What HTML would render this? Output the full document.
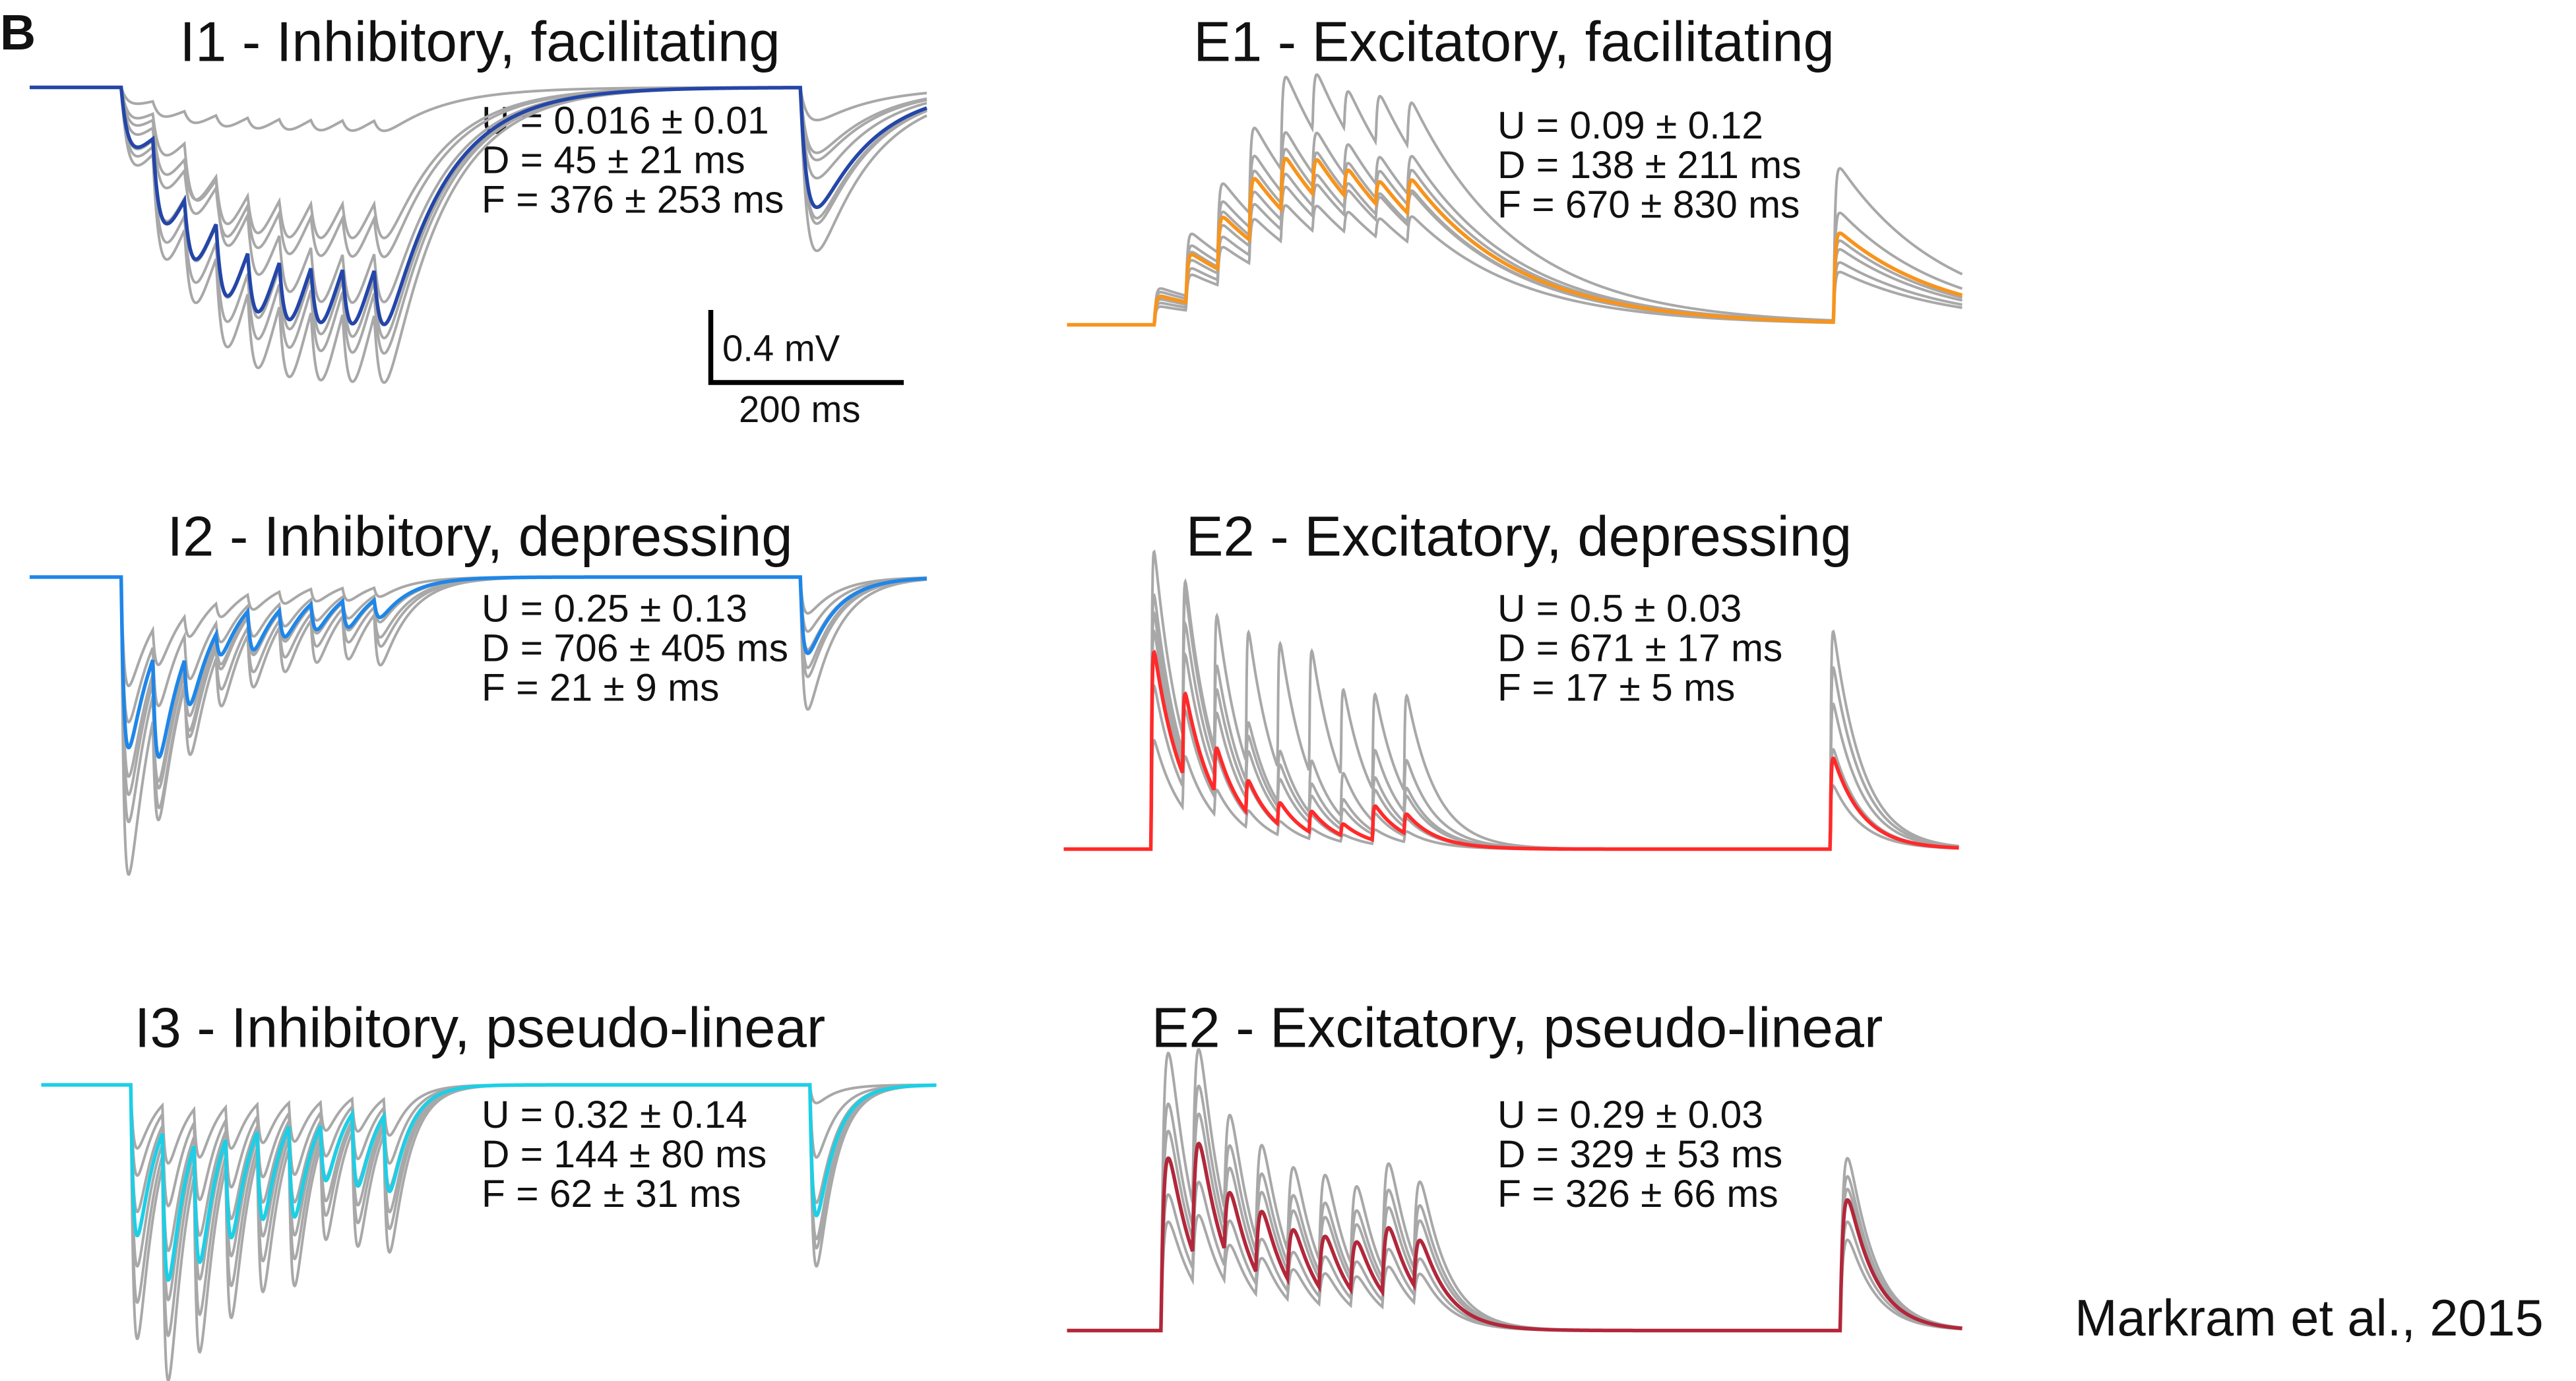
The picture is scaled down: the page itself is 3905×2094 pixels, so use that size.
<!DOCTYPE html>
<html>
<head>
<meta charset="utf-8">
<style>
html,body{margin:0;padding:0;background:#fff;}
svg{display:block;}
text{font-family:"Liberation Sans",Arial,sans-serif;fill:#111;}
</style>
</head>
<body>
<svg id="fig" width="3905" height="2094" viewBox="0 0 1562 837.6" preserveAspectRatio="none" xmlns="http://www.w3.org/2000/svg">
  <text x="0" y="30" font-size="30" font-weight="bold">B</text>

  <text x="291" y="37" font-size="34" text-anchor="middle">I1 - Inhibitory, facilitating</text>
  <text x="918" y="37" font-size="34" text-anchor="middle">E1 - Excitatory, facilitating</text>
  <text x="291" y="337" font-size="34" text-anchor="middle">I2 - Inhibitory, depressing</text>
  <text x="921" y="337" font-size="34" text-anchor="middle">E2 - Excitatory, depressing</text>
  <text x="291" y="635" font-size="34" text-anchor="middle">I3 - Inhibitory, pseudo-linear</text>
  <text x="920" y="635" font-size="34" text-anchor="middle">E2 - Excitatory, pseudo-linear</text>

  <g font-size="23.5">
    <text x="292" y="81">U = 0.016 ± 0.01</text>
    <text x="292" y="105">D = 45 ± 21 ms</text>
    <text x="292" y="129">F = 376 ± 253 ms</text>
  </g>
  <g font-size="23.5">
    <text x="908" y="84">U = 0.09 ± 0.12</text>
    <text x="908" y="108">D = 138 ± 211 ms</text>
    <text x="908" y="132">F = 670 ± 830 ms</text>
  </g>
  <g font-size="23.5">
    <text x="292" y="377">U = 0.25 ± 0.13</text>
    <text x="292" y="401">D = 706 ± 405 ms</text>
    <text x="292" y="425">F = 21 ± 9 ms</text>
  </g>
  <g font-size="23.5">
    <text x="908" y="377">U = 0.5 ± 0.03</text>
    <text x="908" y="401">D = 671 ± 17 ms</text>
    <text x="908" y="425">F = 17 ± 5 ms</text>
  </g>
  <g font-size="23.5">
    <text x="292" y="684">U = 0.32 ± 0.14</text>
    <text x="292" y="708">D = 144 ± 80 ms</text>
    <text x="292" y="732">F = 62 ± 31 ms</text>
  </g>
  <g font-size="23.5">
    <text x="908" y="684">U = 0.29 ± 0.03</text>
    <text x="908" y="708">D = 329 ± 53 ms</text>
    <text x="908" y="732">F = 326 ± 66 ms</text>
  </g>

  <g>
    <path d="M431 188 L431 232 L548 232" fill="none" stroke="#000" stroke-width="3"/>
    <text x="438" y="219" font-size="22.5">0.4 mV</text>
    <text x="448" y="256" font-size="22.5">200 ms</text>
  </g>

  <text x="1258" y="810" font-size="31">Markram et al., 2015</text>

  <g id="traces"></g>
</svg>
<script>
// pulse times (ms): 9-pulse train + recovery test pulse
const pulseTimes = [100,132.5,165,197.5,230,262.5,295,327.5,360,798];

// per-pulse PSP amplitudes (mV)
const i1Mean = [0.33,0.53,0.45,0.55,0.50,0.50,0.49,0.49,0.49,0.66];
const i1Gray = [
 [0.09,0.10,0.09,0.09,0.09,0.09,0.09,0.09,0.09,0.18],
 [0.26,0.38,0.33,0.38,0.36,0.36,0.35,0.35,0.35,0.40],
 [0.38,0.60,0.51,0.61,0.56,0.56,0.55,0.55,0.55,0.75],
 [0.43,0.66,0.56,0.68,0.63,0.62,0.61,0.61,0.61,0.90],
 [0.21,0.34,0.30,0.36,0.32,0.32,0.31,0.31,0.31,0.50],
 [0.34,0.51,0.47,0.55,0.53,0.53,0.52,0.52,0.52,0.72],
 [0.17,0.26,0.38,0.47,0.47,0.47,0.47,0.44,0.44,0.36]
];
const e1Mean = [0.155,0.27,0.30,0.36,0.31,0.22,0.17,0.15,0.21,0.49];
const e1Gray = [
 [0.20,0.35,0.40,0.50,0.55,0.35,0.25,0.30,0.28,0.84],
 [0.10,0.20,0.22,0.26,0.22,0.16,0.13,0.12,0.16,0.28],
 [0.18,0.30,0.35,0.42,0.36,0.26,0.20,0.18,0.24,0.60],
 [0.14,0.25,0.28,0.32,0.28,0.20,0.16,0.14,0.20,0.45],
 [0.16,0.28,0.32,0.38,0.33,0.22,0.18,0.18,0.22,0.40],
 [0.12,0.22,0.25,0.30,0.26,0.20,0.16,0.15,0.20,0.33]
];
const i2Mean = [0.94,0.63,0.33,0.17,0.25,0.18,0.17,0.17,0.12,0.42];
const i2Gray = [
 [1.64,0.70,0.35,0.20,0.25,0.18,0.17,0.17,0.12,0.73],
 [1.35,0.60,0.35,0.20,0.25,0.20,0.18,0.18,0.14,0.55],
 [1.10,0.85,0.40,0.30,0.30,0.25,0.22,0.22,0.20,0.40],
 [0.60,0.25,0.15,0.10,0.10,0.08,0.08,0.08,0.06,0.20],
 [0.80,0.40,0.30,0.15,0.20,0.15,0.14,0.14,0.30,0.30],
 [1.20,0.70,0.55,0.35,0.35,0.30,0.28,0.28,0.32,0.50]
];
const e2Mean = [1.085,0.475,0.26,0.185,0.125,0.12,0.066,0.19,0.11,0.50];
const e2Gray = [
 [1.64,0.90,0.50,0.35,0.30,0.30,0.25,0.40,0.30,1.20],
 [1.40,0.75,0.45,0.32,0.25,0.20,0.15,0.30,0.20,1.00],
 [1.20,0.65,0.38,0.28,0.20,0.16,0.12,0.25,0.18,0.80],
 [0.90,0.45,0.25,0.18,0.13,0.10,0.07,0.15,0.10,0.55],
 [0.60,0.30,0.15,0.10,0.08,0.06,0.04,0.08,0.06,0.35],
 [1.30,0.95,0.80,0.75,0.72,0.70,0.50,0.55,0.55,1.00]
];
const i3Mean = [0.83,0.88,0.73,0.62,0.55,0.56,0.36,0.44,0.46,0.72];
const i3Gray = [
 [1.40,1.30,1.10,0.95,0.85,0.85,0.60,0.70,0.72,1.00],
 [1.20,1.10,0.95,0.82,0.72,0.74,0.50,0.60,0.62,0.90],
 [0.50,0.55,0.48,0.42,0.38,0.38,0.28,0.32,0.34,0.40],
 [0.35,0.35,0.30,0.26,0.24,0.24,0.18,0.20,0.22,0.10],
 [1.00,0.95,0.80,0.70,0.62,0.64,0.45,0.52,0.55,0.85],
 [0.70,0.75,0.62,0.55,0.48,0.50,0.36,0.42,0.44,0.65]
];
const e3Mean = [0.95,0.69,0.40,0.40,0.33,0.33,0.31,0.40,0.30,0.72];
const e3Gray = [
 [1.53,1.00,0.65,0.62,0.55,0.55,0.50,0.65,0.50,0.95],
 [1.25,0.90,0.55,0.52,0.45,0.45,0.42,0.55,0.42,0.85],
 [1.10,0.80,0.48,0.46,0.40,0.40,0.37,0.48,0.37,0.78],
 [0.75,0.55,0.32,0.30,0.26,0.26,0.24,0.32,0.24,0.50],
 [0.60,0.42,0.25,0.24,0.20,0.20,0.19,0.25,0.19,0.60]
];

const PX_PER_MS = 0.59, PX_PER_MV = 110;
const panels = [
 {name:'i1', mean:i1Mean, gray:i1Gray, xFirst:73.5, xStart:18,  xEnd:562,  y0:53,  sign:1,  tr:7,   td:60,  color:'#2446a8'},
 {name:'e1', mean:e1Mean, gray:e1Gray, xFirst:700,  xStart:647, xEnd:1190, y0:197, sign:-1, tr:1.5, td:110, color:'#f7941d'},
 {name:'i2', mean:i2Mean, gray:i2Gray, xFirst:73.5, xStart:18,  xEnd:562,  y0:350, sign:1,  tr:3,   td:30,  color:'#1f86e8'},
 {name:'e2', mean:e2Mean, gray:e2Gray, xFirst:698,  xStart:645, xEnd:1188, y0:515, sign:-1, tr:0.8, td:30,  color:'#ff2a2a'},
 {name:'i3', mean:i3Mean, gray:i3Gray, xFirst:79.3, xStart:25,  xEnd:568,  y0:658, sign:1,  tr:3,   td:20,  color:'#1ccfe6'},
 {name:'e3', mean:e3Mean, gray:e3Gray, xFirst:704,  xStart:647, xEnd:1190, y0:807, sign:-1, tr:3,   td:28,  color:'#b2273a'}
];

function kernel(s, tr, td){
  if (s <= 0) return 0;
  const tpk = td*tr/(td-tr)*Math.log(td/tr);
  const norm = Math.exp(-tpk/td) - Math.exp(-tpk/tr);
  return (Math.exp(-s/td) - Math.exp(-s/tr)) / norm;
}
function tracePath(p, amps){
  const xOf = t => p.xFirst + (t - pulseTimes[0]) * PX_PER_MS;
  const yOf = v => p.y0 + p.sign * PX_PER_MV * v;
  const t0 = pulseTimes[0] - (p.xFirst - p.xStart) / PX_PER_MS;
  const t1 = pulseTimes[0] + (p.xEnd - p.xFirst) / PX_PER_MS;
  let d = '';
  for (let t = t0; t <= t1; t += 0.5) {
    let v = 0;
    for (let i = 0; i < pulseTimes.length; i++) v += amps[i] * kernel(t - pulseTimes[i], p.tr, p.td);
    d += (d ? 'L' : 'M') + xOf(t).toFixed(2) + ' ' + yOf(v).toFixed(2);
  }
  return d;
}
const NS = 'http://www.w3.org/2000/svg';
const root = document.getElementById('traces');
panels.forEach(p => {
  const g = document.createElementNS(NS, 'g');
  
  
  p.gray.forEach((amps, k) => {
    const path = document.createElementNS(NS, 'path');
    path.setAttribute('d', tracePath(p, amps));
    path.setAttribute('fill', 'none');
    path.setAttribute('stroke', '#a8a8a8');
    path.setAttribute('stroke-width', '1.6');
    
    
    g.appendChild(path);
  });
  const m = document.createElementNS(NS, 'path');
  m.setAttribute('d', tracePath(p, p.mean));
  m.setAttribute('fill', 'none');
  m.setAttribute('stroke', p.color);
  m.setAttribute('stroke-width', '2.2');
  
  
  g.appendChild(m);
  root.appendChild(g);
});
</script>
</body>
</html>
